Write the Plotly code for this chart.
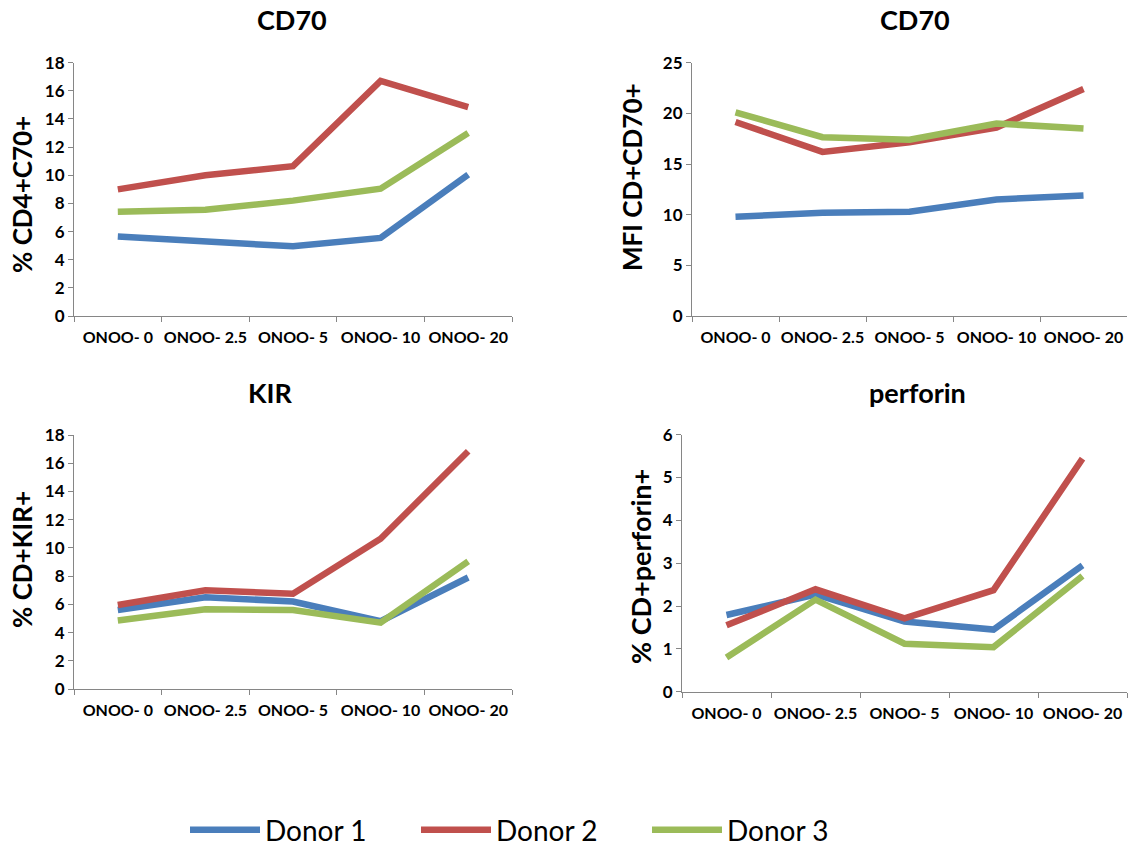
import plotly.graph_objects as go

categories = ["ONOO- 0", "ONOO- 2.5", "ONOO- 5", "ONOO- 10", "ONOO- 20"]
donors = ["Donor 1", "Donor 2", "Donor 3"]
colors = ["#4A7EBB", "#C0504D", "#9BBB59"]

# panel 1: CD70 % CD4+C70+
cd70_pct_d1 = [5.65, 5.35, 4.95, 5.55, 10.05]
cd70_pct_d2 = [9.0, 10.0, 10.65, 16.7, 14.85]
cd70_pct_d3 = [7.4, 7.55, 8.2, 9.05, 13.0]
# panel 2: CD70 MFI
cd70_mfi_d1 = [9.8, 10.2, 10.3, 11.5, 11.9]
cd70_mfi_d2 = [19.15, 16.2, 17.15, 18.6, 22.4]
cd70_mfi_d3 = [20.1, 17.65, 17.4, 19.0, 18.5]
# panel 3: KIR
kir_d1 = [5.6, 6.5, 6.2, 4.8, 7.9]
kir_d2 = [5.95, 7.0, 6.75, 10.65, 16.85]
kir_d3 = [4.85, 5.65, 5.6, 4.7, 9.05]
# panel 4: perforin
perf_d1 = [1.79, 2.27, 1.64, 1.45, 2.95]
perf_d2 = [1.55, 2.39, 1.71, 2.37, 5.44]
perf_d3 = [0.8, 2.15, 1.12, 1.04, 2.70]

panels = [
    dict(title="CD70", ytitle="% CD4+C70+", series=[cd70_pct_d1, cd70_pct_d2, cd70_pct_d3],
         yrange=[0, 18], dtick=2),
    dict(title="CD70", ytitle="MFI CD+CD70+", series=[cd70_mfi_d1, cd70_mfi_d2, cd70_mfi_d3],
         yrange=[0, 25], dtick=5),
    dict(title="KIR", ytitle="% CD+KIR+", series=[kir_d1, kir_d2, kir_d3],
         yrange=[0, 18], dtick=2),
    dict(title="perforin", ytitle="% CD+perforin+", series=[perf_d1, perf_d2, perf_d3],
         yrange=[0, 6], dtick=1),
]

W, H = 1142, 849
# pixel boxes: (left, right, top, bottom)
boxes = [(74, 512, 62.7, 316), (692, 1127, 62.7, 316), (74, 512, 435, 689), (682, 1127, 434.7, 691.7)]
title_pos = [(292, 20), (915, 20), (270, 393), (917, 393)]
ytitle_pos = [(22, 195), (632, 177), (22, 560), (640, 567)]
ytitle_size = [26, 26, 26, 27]

FONT = "Lato"
fig = go.Figure()
layout = dict(width=W, height=H, margin=dict(l=0, r=0, t=0, b=0, autoexpand=False),
              paper_bgcolor="white", plot_bgcolor="white",
              font=dict(family=FONT, color="black"), annotations=[])

for i, p in enumerate(panels):
    n = "" if i == 0 else str(i + 1)
    for j in range(3):
        fig.add_trace(go.Scatter(
            x=categories, y=p["series"][j], mode="lines", name=donors[j],
            line=dict(color=colors[j], width=6.5), showlegend=(i == 0), legendgroup=donors[j],
            xaxis="x" + n, yaxis="y" + n))
    l, r, t, b = boxes[i]
    layout["xaxis" + n] = dict(
        domain=[l / W, r / W], anchor="y" + n, type="category", range=[-0.5, 4.5],
        showline=True, linecolor="#868686", linewidth=1, ticks="outside", tickson="boundaries",
        ticklen=5, tickcolor="#868686", showgrid=False, zeroline=False, automargin=False,
        tickangle=0,
        tickfont=dict(family=FONT, size=16, weight="bold", color="black"), ticklabelstandoff=7)
    layout["yaxis" + n] = dict(
        domain=[1 - b / H, 1 - t / H], anchor="x" + n, range=p["yrange"], dtick=p["dtick"],
        showline=True, linecolor="#868686", linewidth=1, ticks="outside", ticklen=5,
        tickcolor="#868686", showgrid=False, zeroline=False, automargin=False,
        tickfont=dict(family=FONT, size=17, weight="bold", color="black"))
    tx, ty = title_pos[i]
    layout["annotations"].append(dict(
        text=p["title"], x=tx / W, y=1 - ty / H, xref="paper", yref="paper",
        showarrow=False, xanchor="center", yanchor="middle",
        font=dict(family=FONT, size=27, weight="bold", color="black")))
    yx, yy = ytitle_pos[i]
    layout["annotations"].append(dict(
        text=p["ytitle"], x=yx / W, y=1 - yy / H, xref="paper", yref="paper",
        showarrow=False, xanchor="center", yanchor="middle", textangle=-90,
        font=dict(family=FONT, size=ytitle_size[i], weight="bold", color="black")))

layout["legend"] = dict(orientation="h", x=185 / W, y=1 - 830 / H, xanchor="left", yanchor="middle",
                        itemwidth=70, entrywidth=146, entrywidthmode="pixels",
                        font=dict(family=FONT, size=28, color="black"),
                        bgcolor="rgba(0,0,0,0)")
fig.update_layout(**layout)
fig.write_html("out.html")
